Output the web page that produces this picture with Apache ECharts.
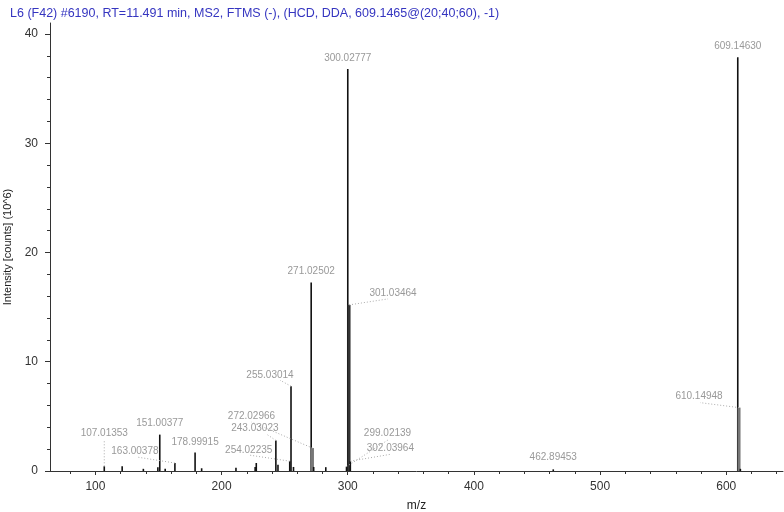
<!DOCTYPE html>
<html>
<head>
<meta charset="utf-8">
<script src="https://cdn.jsdelivr.net/npm/echarts@6/dist/echarts.min.js"></script>
<style>
	html, body { margin: 0; padding: 0; background: #fff; }
	#chart { width: 784px; height: 512px; }
</style>
</head>
<body>
<div id="chart"></div>
<script>
// 标注的峰 (m/z 文本, 强度 10^6)
var labelMz = ['107.01353', '151.00377', '163.00378', '178.99915', '243.03023', '254.02235', '255.03014', '271.02502',
	'272.02966', '299.02139', '300.02777', '301.03464', '302.03964', '462.89453', '609.14630', '610.14948'];
var labelInt = [0.43, 3.33, 0.73, 1.7, 2.8, 0.9, 7.76, 17.25, 2.1, 0.4, 36.8, 15.2, 0.9, 0.15, 37.86, 5.8];
// 未标注的小峰
var smallMz = [121.2, 138.0, 149.5, 155.3, 184.2, 211.4, 226.6, 227.5, 244.7, 257.0, 273.0, 282.6, 611.2];
var smallInt = [0.43, 0.2, 0.35, 0.2, 0.25, 0.3, 0.37, 0.73, 0.58, 0.37, 0.37, 0.35, 0.2];
// 刻度
var xTicks = [100, 200, 300, 400, 500, 600];
var yTicks = [0, 10, 20, 30, 40];

// 宽峰 (1 = 灰色, 2 = 深色)
var widePeaks = { '272.02966': 1, '610.14948': 1, '301.03464': 2 };
// 标签偏移: [dx, dy, 引线终点dx, 引线终点dy] (相对峰顶 / 文本中心)
var labelLayout = {
	'107.01353': [0, -33, 0, 6],
	'151.00377': [0, -11],
	'163.00378': [-40, -12, 2, 6],
	'178.99915': [0, -10],
	'243.03023': [-21, -12, 12, 6],
	'254.02235': [-41, -11, 1, 5],
	'255.03014': [-21, -11, 10, 5],
	'271.02502': [0, -11],
	'272.02966': [-61, -32, 0, 6],
	'299.02139': [41, -33, 1, 6],
	'300.02777': [0, -11],
	'301.03464': [44, -12, -5, 6],
	'302.03964': [40, -13, 1, 6],
	'462.89453': [0, -12],
	'609.14630': [0, -11],
	'610.14948': [-40, -11, 1, 6]
};

var stickData = [];
for (var i = 0; i < labelMz.length; i++) {
	stickData.push([parseFloat(labelMz[i]), labelInt[i], widePeaks[labelMz[i]] || 0]);
}
for (var j = 0; j < smallMz.length; j++) {
	stickData.push([smallMz[j], smallInt[j], 0]);
}
var labelData = [];
for (var k = 0; k < labelMz.length; k++) {
	labelData.push([parseFloat(labelMz[k]), labelInt[k]]);
}

function renderStick(params, api) {
	var top = api.coord([api.value(0), api.value(1)]);
	var base = api.coord([api.value(0), 0]);
	var kind = api.value(2);
	var color = kind == 1 ? '#777' : (kind == 2 ? '#333' : '#111');
	return {
		type: 'line',
		shape: { x1: top[0], y1: top[1], x2: base[0], y2: base[1] },
		style: { stroke: color, lineWidth: kind ? 3 : 1.6 }
	};
}

function renderLabel(params, api) {
	var name = labelMz[params.dataIndex];
	var p = api.coord([api.value(0), api.value(1)]);
	var lay = labelLayout[name];
	var tx = p[0] + lay[0], ty = p[1] + lay[1];
	var children = [];
	if (lay.length > 2) {
		children.push({
			type: 'line',
			shape: { x1: p[0], y1: p[1], x2: tx + lay[2], y2: ty + lay[3] },
			style: { stroke: '#aaa', lineWidth: 1, lineDash: [1, 2] }
		});
	}
	children.push({
		type: 'text',
		x: tx, y: ty,
		style: {
			text: name, fill: '#999', font: '10px "Liberation Sans", Arial',
			align: 'center', verticalAlign: 'middle'
		}
	});
	return { type: 'group', children: children };
}

var myChart = echarts.init(document.getElementById('chart'));
var option = {
	animation: false,
	title: {
		text: 'L6 (F42) #6190, RT=11.491 min, MS2, FTMS (-), (HCD, DDA, 609.1465@(20;40;60), -1)',
		left: 5, top: 2,
		textStyle: { fontSize: 12.5, fontWeight: 'normal', color: '#3535c0', fontFamily: 'Liberation Sans' }
	},
	grid: { left: 50, right: 1, top: 23, bottom: 41, outerBoundsMode: 'none' },
	xAxis: {
		type: 'value', min: 64, max: 645,
		name: 'm/z', nameLocation: 'middle', nameGap: 29,
		nameTextStyle: { color: '#222', fontSize: 12, fontFamily: 'Liberation Sans' },
		axisLine: { lineStyle: { color: '#333', width: 1 } },
		axisTick: { show: true, length: 4, customValues: xTicks, lineStyle: { color: '#333' } },
		minorTick: { show: true, splitNumber: 5, length: 3, lineStyle: { color: '#333' } },
		axisLabel: { customValues: xTicks, margin: 10, color: '#333', fontSize: 12, fontFamily: 'Liberation Sans' },
		splitLine: { show: false }
	},
	yAxis: {
		type: 'value', min: 0, max: 41, interval: 10,
		name: 'Intensity [counts] (10^6)', nameLocation: 'middle', nameGap: 36,
		nameTextStyle: { color: '#222', fontSize: 11, fontFamily: 'Liberation Sans' },
		axisLine: { show: true, lineStyle: { color: '#333', width: 1 } },
		axisTick: { show: true, length: 5, customValues: yTicks, lineStyle: { color: '#333' } },
		minorTick: { show: true, splitNumber: 5, length: 3, lineStyle: { color: '#333' } },
		axisLabel: { customValues: yTicks, margin: 12, color: '#333', fontSize: 12, fontFamily: 'Liberation Sans' },
		splitLine: { show: false }
	},
	series: [{
		type: 'custom',
		renderItem: renderStick,
		data: stickData,
		silent: true
	}, {
		type: 'custom',
		renderItem: renderLabel,
		data: labelData,
		silent: true,
		z: 3
	}]
};
myChart.setOption(option);
</script>
</body>
</html>
